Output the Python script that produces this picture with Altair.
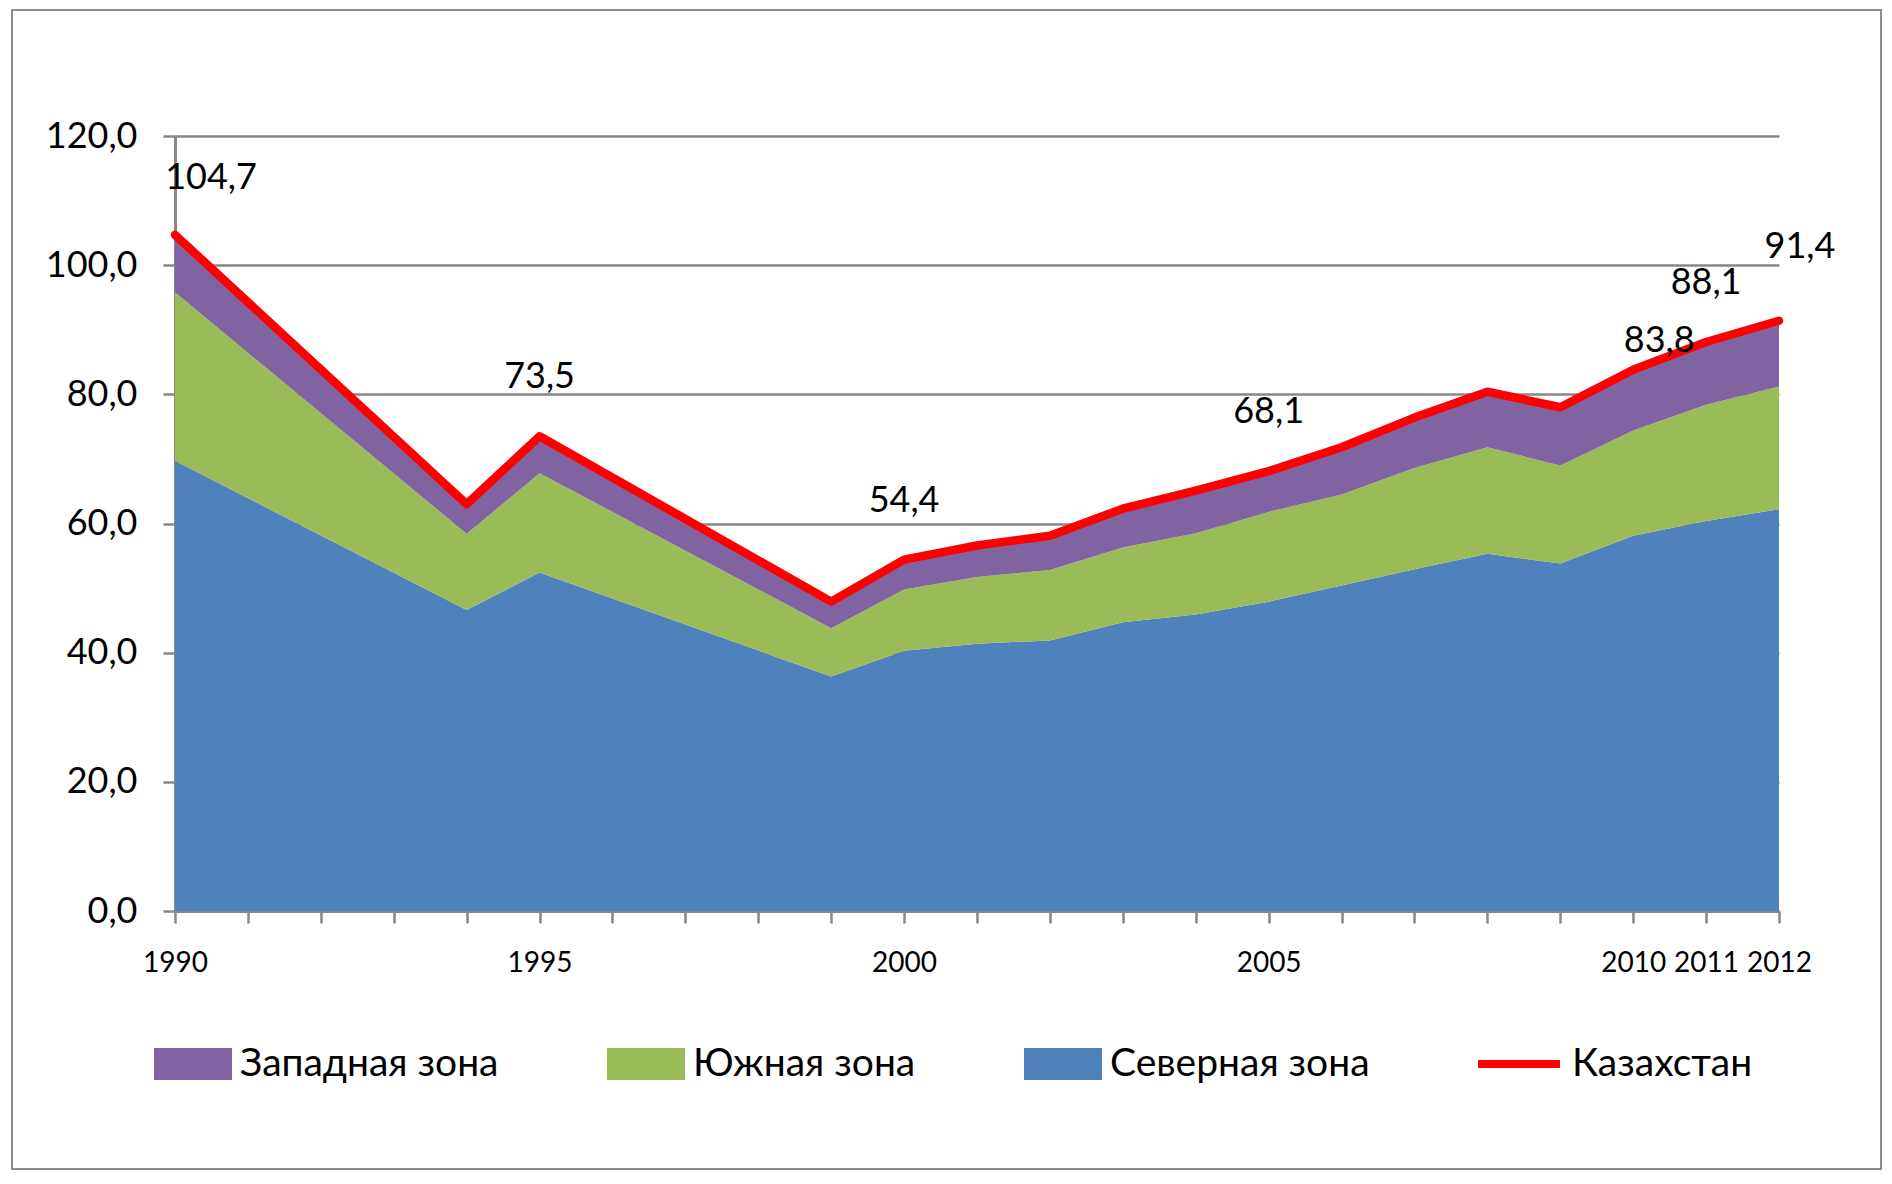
import altair as alt
import pandas as pd

# ---- data ----
years = [1990, 1994, 1995, 1999, 2000, 2001, 2002, 2003, 2004, 2005,
         2006, 2007, 2008, 2009, 2010, 2011, 2012]
north = [69.7, 46.6, 52.4, 36.3, 40.3, 41.4, 41.9, 44.7, 45.9, 47.9,
         50.4, 52.9, 55.3, 53.8, 58.1, 60.4, 62.2]
south = [26.1, 11.8, 15.4, 7.5, 9.5, 10.3, 10.9, 11.6, 12.6, 13.9,
         14.1, 15.7, 16.5, 15.2, 16.3, 18.0, 19.0]
west = [8.9, 4.6, 5.7, 4.1, 4.6, 4.9, 5.3, 6.0, 6.6, 6.3,
        7.3, 7.8, 8.6, 9.0, 9.4, 9.7, 10.2]
kazakhstan = [104.7, 63.0, 73.5, 47.9, 54.4, 56.6, 58.1, 62.3, 65.1, 68.1,
              71.8, 76.4, 80.4, 78.0, 83.8, 88.1, 91.4]

zones = ["Западная зона", "Южная зона", "Северная зона"]
zone_colors = ["#8064A2", "#9BBB59", "#4F81BD"]
total_name = "Казахстан"

tick_years = list(range(1990, 2013))
label_years = [1990, 1995, 2000, 2005, 2010, 2011, 2012]
y_ticks = [0, 20, 40, 60, 80, 100, 120]

# ---- tables ----
rows = []
for zone, vals, order in [("Северная зона", north, 0), ("Южная зона", south, 1), ("Западная зона", west, 2)]:
    for yr, v in zip(years, vals):
        rows.append({"year": yr, "zone": zone, "value": v, "ord": order})
area_df = pd.DataFrame(rows)
kz_df = pd.DataFrame({"year": years, "kz": kazakhstan, "series": total_name})
frame_df = pd.DataFrame({"a": [0]})

FONT = "Lato, 'Open Sans', sans-serif"
GRAY = "#878787"

x_enc = alt.X("year:Q", scale=alt.Scale(domain=[1990, 2012], nice=False, zero=False),
              axis=alt.Axis(values=tick_years, title=None, grid=False,
                            labelExpr="indexof(" + str(label_years) + ", datum.value) >= 0 ? format(datum.value, 'd') : ''",
                            labelFontSize=28, labelFont=FONT, labelColor="#000000",
                            labelPadding=26, tickSize=12, tickWidth=2.5, tickColor=GRAY,
                            domainColor=GRAY, domainWidth=3, labelFlush=False,
                            labelOverlap=False))
y_scale = alt.Scale(domain=[0, 120], nice=False)
y_axis = alt.Axis(values=y_ticks, title=None, grid=True, gridColor=GRAY, gridWidth=2.5,
                  labelExpr="replace(format(datum.value, '.1f'), '.', ',')",
                  labelFontSize=36, labelFont=FONT, labelColor="#000000",
                  labelPadding=26, tickSize=12, tickWidth=2.5, tickColor=GRAY,
                  domainColor=GRAY, domainWidth=3)

areas = alt.Chart(area_df).mark_area(opacity=1, interpolate="linear").encode(
    x=x_enc,
    y=alt.Y("value:Q", stack="zero", scale=y_scale, axis=y_axis),
    color=alt.Color("zone:N", sort=zones,
                    scale=alt.Scale(domain=zones, range=zone_colors),
                    legend=alt.Legend(title=None, orient="none", legendX=-21, legendY=889,
                                      direction="horizontal",
                                      symbolType="M-1,-0.41H1V0.41H-1Z", symbolSize=6084,
                                      symbolStrokeWidth=0, symbolOpacity=1,
                                      labelFont=FONT, labelFontSize=39, labelColor="#000000",
                                      labelOffset=8, columnPadding=108, padding=0,
                                      labelLimit=600)),
    order=alt.Order("ord:Q", sort="ascending"),
)

line = alt.Chart(kz_df).mark_line(strokeWidth=8.5, strokeJoin="round", strokeCap="round").encode(
    x="year:Q",
    y=alt.Y("kz:Q", scale=y_scale),
    stroke=alt.Stroke("series:N", scale=alt.Scale(domain=[total_name], range=["#FF0000"]),
                      legend=alt.Legend(title=None, orient="none", legendX=1299, legendY=883,
                                        symbolType="stroke", symbolSize=6724,
                                        symbolStrokeWidth=8,
                                        labelFont=FONT, labelFontSize=39, labelColor="#000000",
                                        labelOffset=8, padding=0, labelLimit=600)),
)

label_base = alt.Chart(kz_df).transform_filter(
    alt.FieldOneOfPredicate(field="year", oneOf=label_years)
).transform_calculate(
    txt="replace(format(datum.kz, '.1f'), '.', ',')"
)

def labels(years_sel, dx, dy):
    return label_base.transform_filter(
        alt.FieldOneOfPredicate(field="year", oneOf=years_sel)
    ).mark_text(font=FONT, fontSize=36, color="#000000", dx=dx, dy=dy,
                baseline="middle", align="center").encode(
        x="year:Q", y=alt.Y("kz:Q", scale=y_scale), text="txt:N")

txt_std = labels([1995, 2000, 2005, 2011], 0, -59)
txt_1990 = labels([1990], 36, -57)
txt_2010 = labels([2010], 26, -29)
txt_2012 = labels([2012], 21, -74)

frame = alt.Chart(frame_df).mark_rect(filled=False, stroke="#8c8c8c", strokeWidth=2).encode(
    x=alt.value(-163), x2=alt.value(1706), y=alt.value(-126), y2=alt.value(1033))

chart = alt.layer(frame, areas, line, txt_std, txt_1990, txt_2010, txt_2012).properties(
    width=1604, height=775,
    autosize=alt.AutoSizeParams(type="none"),
    padding={"left": 167, "top": 128, "right": 103, "bottom": 259},
    background="#ffffff",
).resolve_legend(color="independent", stroke="independent").configure_view(stroke=None)

chart.save("out.html", embed_options={"renderer": "svg", "actions": False})
